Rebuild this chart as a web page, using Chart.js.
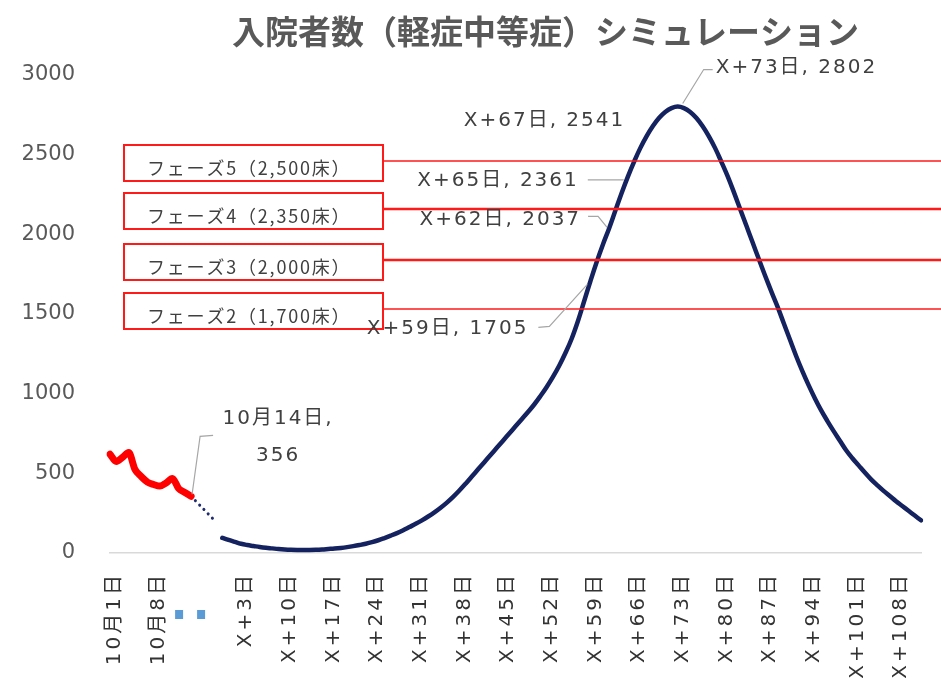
<!DOCTYPE html>
<html><head><meta charset="utf-8">
<script src="https://cdn.jsdelivr.net/npm/chart.js@4.4.1/dist/chart.umd.min.js"></script>
<style>html,body{margin:0;padding:0;background:#fff;overflow:hidden}</style>
</head><body>
<canvas id="c" width="941" height="678"></canvas>
<script>
// ---------- DATA ----------
const chartTitle = '入院者数（軽症中等症）シミュレーション';
const actualDates = ['10月1日','10月2日','10月3日','10月4日','10月5日','10月6日','10月7日',
  '10月8日','10月9日','10月10日','10月11日','10月12日','10月13日','10月14日'];
const actualValues = [620,575,600,630,525,480,445,430,420,440,468,405,380,356];
const gapLabels = ['','','',''];
const simLabels = Array.from({length:113},(_,i)=>'X+'+i+'日');
const simValues = [
  95,82,70,58,50,44,38,33,29,25,            // X+0 .. X+9
  22,20,19,19,19,20,22,25,28,32,            // X+10 .. X+19
  37,43,50,58,68,80,94,109,125,143,         // X+20 .. X+29
  163,183,205,229,255,284,316,352,392,435,  // X+30 .. X+39
  480,525,570,615,660,705,750,795,840,885,  // X+40 .. X+49
  932,985,1042,1105,1175,1255,1345,1455,1580,1705, // X+50 .. X+59
  1825,1935,2037,2148,2258,2361,2455,2541,2615,2678, // X+60 .. X+69
  2730,2768,2792,2802,2792,2768,2730,2678,2615,2541, // X+70 .. X+79
  2455,2365,2265,2160,2055,1950,1845,1742,1642,1546, // X+80 .. X+89
  1442,1338,1235,1140,1052,970,895,828,765,705,      // X+90 .. X+99
  645,595,550,505,462,425,390,358,325,295,           // X+100 .. X+109
  265,235,205                                         // X+110 .. X+112
];
const bridgeValues = [356, 195];            // dotted link: 10月14日 -> last gap slot
const yTicks = [0,500,1000,1500,2000,2500,3000];
const phaseLabels = ['フェーズ5（2,500床）','フェーズ4（2,350床）','フェーズ3（2,000床）','フェーズ2（1,700床）'];
const phaseLineLevels = [2460,2160,1840,1530];
const labelledSimDays = [59,62,65,67,73];

// ---------- TABLE BUILT FROM DATA ----------
const allLabels = actualDates.concat(gapLabels, simLabels);
const simStart = actualDates.length + gapLabels.length;
const redSeries = allLabels.map((_,i)=> i < actualValues.length ? actualValues[i] : null);
const bridgeSeries = allLabels.map(()=>null);
bridgeSeries[actualValues.length-1] = bridgeValues[0];
bridgeSeries[simStart-1] = bridgeValues[1];
const simSeries = allLabels.map((_,i)=> i >= simStart ? simValues[i-simStart] : null);

// ---------- STYLE ----------
const labelFont = '20px "DejaVu Sans", "Noto Sans CJK JP"';
const phaseLineWidths = [1.6,2.4,2.4,1.6];

const annot = {
  id:'annot',
  beforeDraw(chart){
    const s = chart.scales.x;
    if (s && !s._lsWrapped){
      const orig = s.drawLabels;
      s.drawLabels = function(a){ const c=this.ctx; c.save(); c.letterSpacing='3px'; orig.call(this,a); c.restore(); };
      s._lsWrapped = true;
    }
  },
  afterDatasetsDraw(chart){
    const {ctx, chartArea:ca, scales:{x,y}} = chart;
    ctx.save();
    // phase boxes + lines
    phaseLineLevels.forEach((v,i)=>{
      const py = Math.round(y.getPixelForValue(v));
      const bx = ca.left+14, bw = 259, by = py-16, bh = 36;
      ctx.strokeStyle = '#FF1A1A';
      ctx.lineWidth = phaseLineWidths[i];
      ctx.beginPath(); ctx.moveTo(bx+bw, py); ctx.lineTo(chart.width, py); ctx.stroke();
      ctx.fillStyle = '#fff'; ctx.fillRect(bx,by,bw,bh);
      ctx.lineWidth = 2; ctx.strokeRect(bx,by,bw,bh);
      ctx.fillStyle = '#404040';
      ctx.font = '18px "Noto Sans CJK JP"';
      ctx.letterSpacing = '1.8px';
      ctx.textAlign = 'left'; ctx.textBaseline = 'middle';
      ctx.fillText(phaseLabels[i], bx+23, py+7);
    });
    // data labels with leader lines
    ctx.letterSpacing = '2px';
    ctx.font = labelFont;
    ctx.fillStyle = '#404040';
    ctx.strokeStyle = '#A6A6A6';
    ctx.lineWidth = 1.2;
    const pt = idx => ({px:x.getPixelForValue(idx), py:y.getPixelForValue(chart.data.datasets[idx<simStart?0:2].data[idx])});
    const leader = (pts)=>{ ctx.beginPath(); pts.forEach((p,k)=> k?ctx.lineTo(p[0],p[1]):ctx.moveTo(p[0],p[1])); ctx.stroke(); };
    const simText = d => allLabels[simStart+d] + ', ' + simValues[d];
    // 10月14日
    {
      const i = actualValues.length-1; const {px,py} = pt(i);
      leader([[px+1,py-2],[px+9,py-60],[px+22,py-61]]);
      ctx.textAlign='center'; ctx.textBaseline='middle';
      ctx.fillText(allLabels[i]+',', px+87, py-77);
      ctx.fillText(String(actualValues[i]), px+87, py-40);
    }
    const cfg = {
      59:{text:[-62,47], lead:[[-52,46],[-41,45],[-3,3]]},
      62:{text:[-28,-9], lead:[[-21,-12],[-11,-12],[-2,-1]]},
      65:{text:[-49,4], lead:[[-40,3],[-4,3]]},
      67:{text:[-15,-27], lead:null},
      73:{text:[38,-39], lead:[[5,-3],[26,-37],[35,-37]], align:'left'}
    };
    labelledSimDays.forEach(d=>{
      const c = cfg[d]; const {px,py} = pt(simStart+d);
      if (c.lead) leader(c.lead.map(o=>[px+o[0],py+o[1]]));
      ctx.textAlign = c.align || 'right'; ctx.textBaseline='middle';
      ctx.fillText(simText(d), px+c.text[0], py+c.text[1]);
    });
    ctx.restore();
  },
  afterDraw(chart){
    const {ctx, chartArea:ca, scales:{x}} = chart;
    ctx.save();
    ctx.fillStyle = '#595959';
    ctx.font = 'bold 33px "Noto Sans CJK JP"';
    ctx.textAlign = 'center'; ctx.textBaseline = 'middle';
    ctx.fillText(chartTitle, (ca.left+ca.right)/2 + 30, 31);
    // small blue marks in the gap of the category axis
    const cx = x.getPixelForValue(actualValues.length-1) - 1;
    ctx.fillStyle = '#5B9BD5';
    ctx.fillRect(cx-15, ca.bottom+57, 8, 9);
    ctx.fillRect(cx+7, ca.bottom+57, 8, 9);
    ctx.restore();
  }
};

new Chart(document.getElementById('c'), {
  type:'line',
  data:{ labels: allLabels, datasets:[
    {data: redSeries, borderColor:'#FF0000', borderWidth:7, pointRadius:0, tension:0.4,
     cubicInterpolationMode:'monotone', borderCapStyle:'round', borderJoinStyle:'round'},
    {data: bridgeSeries, borderColor:'#1F2D6E', borderWidth:3, borderDash:[0.1,6],
     borderCapStyle:'round', pointRadius:0, spanGaps:true},
    {data: simSeries, borderColor:'#14225F', borderWidth:4.5, pointRadius:0, tension:0.4,
     borderCapStyle:'round', borderJoinStyle:'round'}
  ]},
  options:{
    responsive:false, animation:false, devicePixelRatio:1,
    layout:{padding:{top:75, right:20, left:0, bottom:0}},
    plugins:{legend:{display:false}, tooltip:{enabled:false}, title:{display:false}},
    scales:{
      x:{
        grid:{display:false, drawTicks:false},
        border:{display:true, color:'#D9D9D9', width:1.5},
        ticks:{autoSkip:false, maxRotation:90, minRotation:90, padding:19, labelOffset:5,
          color:'#333333', font:{family:'"DejaVu Sans", "Noto Sans CJK JP"', size:20},
          callback:(v,i)=> (i%7===0 ? allLabels[i] : '')},
        afterFit(s){ s.height = 125; s.paddingLeft = 0; s.paddingRight = 0; }
      },
      y:{
        min:0, max:3000,
        grid:{display:false, drawTicks:false},
        border:{display:false},
        ticks:{padding:35, color:'#595959', font:{family:'"DejaVu Sans"', size:21},
          callback:(v)=> String(v)},
        afterBuildTicks(s){ s.ticks = yTicks.map(v=>({value:v})); },
        afterFit(s){ s.width = 110; s.paddingTop = 0; s.paddingBottom = 0; }
      }
    }
  },
  plugins:[annot]
});
</script>
</body></html>
